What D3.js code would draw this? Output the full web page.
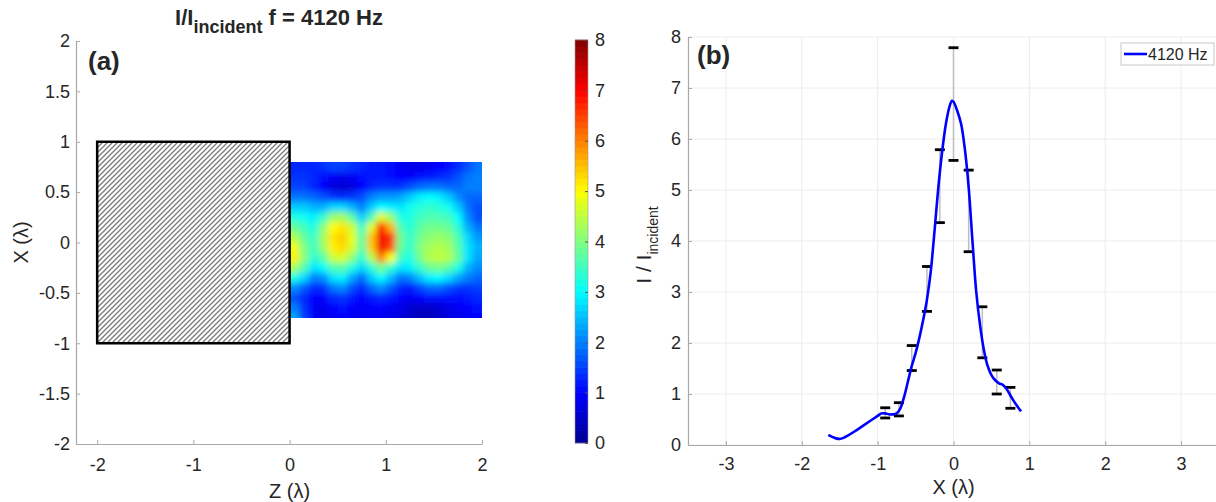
<!DOCTYPE html>
<html>
<head>
<meta charset="utf-8">
<script src="https://cdn.jsdelivr.net/npm/d3@7"></script>
<style>
  body { margin: 0; background: #fff; }
  text { font-family: "Liberation Sans", Arial, Helvetica, sans-serif; fill: #262626; }
</style>
</head>
<body>
<svg id="chart" width="1216" height="502"></svg>
<script>
// ---- panel (a): intensity map ----
var heatZ = [0.05, 0.15, 0.25, 0.35, 0.45, 0.55, 0.65, 0.75, 0.85, 0.95,
             1.05, 1.15, 1.25, 1.35, 1.45, 1.55, 1.65, 1.75, 1.85, 1.95];
var heatX = [0.75, 0.65, 0.55, 0.45, 0.35, 0.25, 0.15, 0.05,
             -0.05, -0.15, -0.25, -0.35, -0.45, -0.55, -0.65, -0.75];
var heatVals = [
  [1.3,1.3,1.3,1.4,1.5,1.5,1.4,1.3,1.2,1.2,1.1,0.9,0.8,0.8,0.9,1.0,1.1,1.3,1.6,1.9],
  [1.4,1.4,1.3,1.1,0.9,0.8,0.9,1.1,1.2,1.2,1.1,1.0,1.0,1.1,1.2,1.3,1.4,1.6,1.9,2.0],
  [1.5,1.5,1.3,1.0,0.7,0.6,0.7,1.0,1.3,1.4,1.4,1.4,1.6,1.8,1.9,1.9,1.8,1.8,2.0,2.0],
  [1.9,1.9,1.8,1.6,1.4,1.3,1.4,1.6,2.0,2.2,2.2,2.3,2.6,2.9,3.0,2.9,2.6,2.1,1.8,1.8],
  [2.6,2.6,2.4,2.4,2.7,2.7,2.4,2.0,2.6,3.0,2.9,2.8,3.1,3.3,3.4,3.3,3.1,2.6,1.9,1.6],
  [3.2,3.1,2.9,3.4,4.2,4.3,3.7,2.6,3.6,4.8,4.2,3.2,3.2,3.5,3.6,3.6,3.5,3.0,2.1,1.6],
  [3.8,3.5,3.2,4.1,5.0,5.2,4.6,3.4,4.8,6.8,5.6,3.6,3.3,3.7,3.9,3.9,3.8,3.3,2.4,1.9],
  [4.4,3.8,3.4,4.3,5.2,5.4,4.8,3.7,5.5,7.1,6.6,3.9,3.4,3.9,4.1,4.2,4.1,3.6,2.7,2.2],
  [4.9,4.0,3.5,4.2,5.1,5.3,4.7,3.7,5.4,7.1,6.4,3.8,3.4,4.0,4.3,4.4,4.3,3.7,2.8,2.4],
  [5.1,4.1,3.3,3.7,4.6,4.7,4.1,3.3,4.4,6.0,5.0,3.5,3.2,3.9,4.4,4.5,4.4,3.8,2.8,2.3],
  [4.3,3.6,2.8,3.0,3.6,3.7,3.2,2.7,3.3,3.9,3.4,2.8,2.9,3.4,3.8,3.9,3.7,3.2,2.4,2.1],
  [3.2,2.7,2.0,2.1,2.8,2.9,2.3,1.8,2.6,3.0,2.5,1.9,2.0,2.5,2.9,3.0,2.7,2.3,2.0,1.8],
  [2.1,1.7,1.3,1.4,1.9,2.1,1.6,1.3,1.8,2.1,1.7,1.3,1.2,1.5,1.8,1.8,1.6,1.4,1.4,1.5],
  [1.6,1.3,1.0,1.0,1.3,1.4,1.2,1.0,1.2,1.3,1.2,1.0,0.9,1.0,1.1,1.1,1.1,1.1,1.2,1.3],
  [2.0,1.4,0.9,0.8,1.0,1.1,1.0,0.9,1.0,1.0,0.9,0.8,0.6,0.5,0.5,0.6,0.8,0.9,1.0,1.1],
  [2.3,1.5,0.9,0.8,0.9,1.0,0.9,0.8,0.9,0.9,0.8,0.7,0.5,0.4,0.4,0.5,0.7,0.8,0.9,1.0]
];
var heatExtentZ = [0, 2];
var heatExtentX = [-0.75, 0.8];
var scatterer = {z0: -2, z1: 0, x0: -1, x1: 1};
var aTicksX = [-2, -1, 0, 1, 2];
var aTicksY = [-2, -1.5, -1, -0.5, 0, 0.5, 1, 1.5, 2];
var colorbarTicks = [0, 1, 2, 3, 4, 5, 6, 7, 8];

// ---- panel (b): profile ----
var curveX = [-1.65,-1.6,-1.55,-1.5,-1.45,-1.4,-1.3,-1.2,-1.1,-1.0,-0.95,-0.9,-0.85,-0.8,-0.75,
              -0.7,-0.65,-0.6,-0.55,-0.5,-0.45,-0.4,-0.35,-0.3,-0.25,-0.2,-0.15,-0.1,-0.05,-0.02,
              0,0.05,0.1,0.15,0.2,0.25,0.3,0.35,0.4,0.45,0.5,0.55,0.6,0.65,0.7,0.75,0.8,0.85,0.89];
var curveY = [0.2,0.16,0.13,0.12,0.14,0.18,0.27,0.37,0.47,0.57,0.62,0.62,0.6,0.6,0.62,
              0.72,0.95,1.25,1.55,1.8,2.1,2.45,2.85,3.4,4.2,5.05,5.75,6.3,6.65,6.75,
              6.73,6.55,6.3,5.8,5.05,4.0,3.0,2.35,1.87,1.55,1.37,1.27,1.21,1.18,1.1,0.97,0.85,0.74,0.66];
var errX  = [-0.9, -0.72, -0.55, -0.35, -0.18, 0, 0.2, 0.38, 0.57, 0.75];
var errHi = [0.73, 0.83, 1.95, 3.5, 5.79, 7.79, 5.39, 2.71, 1.47, 1.13];
var errLo = [0.53, 0.57, 1.46, 2.62, 4.36, 5.58, 3.79, 1.71, 1.0, 0.72];
var bTicksX = [-3, -2, -1, 0, 1, 2, 3];
var bTicksY = [0, 1, 2, 3, 4, 5, 6, 7, 8];
var legendLabel = "4120 Hz";

var svg = d3.select("#chart");
var fmt = function(d) { return String(d); };
var axisGray = "#a8a8a8";

// jet colormap
var jet = d3.scaleLinear()
    .domain([0, 1, 3, 5, 7, 8])
    .range(["#00008f", "#0000ff", "#00ffff", "#ffff00", "#ff0000", "#800000"])
    .clamp(true);

var defs = svg.append("defs");
var pat = defs.append("pattern")
    .attr("id", "hatch").attr("patternUnits", "userSpaceOnUse")
    .attr("width", 5).attr("height", 5);
pat.append("rect").attr("width", 5).attr("height", 5).attr("fill", "#fff");
pat.append("path").attr("d", "M-1,1 l2,-2 M0,5 l5,-5 M4,6 l2,-2")
    .attr("stroke", "#7a7a7a").attr("stroke-width", 1.3);

var blur = defs.append("filter").attr("id", "smooth")
    .attr("x", "-10%").attr("y", "-10%").attr("width", "120%").attr("height", "120%");
blur.append("feGaussianBlur").attr("stdDeviation", 3.2);

// ===== panel (a) =====
var xa = d3.scaleLinear().domain([-2.22, 2]).range([76, 482]);
var ya = d3.scaleLinear().domain([-2, 2]).range([444, 41]);

defs.append("clipPath").attr("id", "heatClip").append("rect")
    .attr("x", xa(heatExtentZ[0])).attr("y", ya(heatExtentX[1]))
    .attr("width", xa(heatExtentZ[1]) - xa(heatExtentZ[0]))
    .attr("height", ya(heatExtentX[0]) - ya(heatExtentX[1]));

var cellW = xa(0.1) - xa(0), cellH = ya(0) - ya(0.1);
var cells = [];
heatVals.forEach(function(row, r) {
  row.forEach(function(v, c) { cells.push({r: r, c: c, v: v}); });
});
var pad = 10;
svg.append("g").attr("clip-path", "url(#heatClip)")
  .append("g").attr("filter", "url(#smooth)")
  .selectAll("rect").data(cells).enter().append("rect")
    .attr("x", function(d) { return xa(heatZ[d.c]) - cellW / 2 - (d.c === 0 ? pad : 0); })
    .attr("y", function(d) { return ya(heatX[d.r]) - cellH / 2 - (d.r === 0 ? pad : 0); })
    .attr("width", function(d) { return cellW + 0.6 + ((d.c === 0 || d.c === heatZ.length - 1) ? pad : 0); })
    .attr("height", function(d) { return cellH + 0.6 + ((d.r === 0 || d.r === heatX.length - 1) ? pad : 0); })
    .attr("fill", function(d) { return jet(d.v); });

// hatched scatterer
svg.append("rect")
    .attr("x", xa(scatterer.z0)).attr("y", ya(scatterer.x1))
    .attr("width", xa(scatterer.z1) - xa(scatterer.z0))
    .attr("height", ya(scatterer.x0) - ya(scatterer.x1))
    .attr("fill", "url(#hatch)").attr("stroke", "#000").attr("stroke-width", 2.5);

// axes (a)
var axA_x = svg.append("g").attr("transform", "translate(0," + ya(-2) + ")")
    .call(d3.axisBottom(xa).tickValues(aTicksX).tickFormat(fmt).tickSize(-4).tickSizeOuter(0).tickPadding(14));
var axA_y = svg.append("g").attr("transform", "translate(" + xa(-2.22) + ",0)")
    .call(d3.axisLeft(ya).tickValues(aTicksY).tickFormat(fmt).tickSize(-4).tickSizeOuter(0).tickPadding(6));
[axA_x, axA_y].forEach(function(g) {
  g.select(".domain").attr("stroke", axisGray).attr("stroke-width", 1.2);
  g.selectAll(".tick line").attr("stroke", axisGray);
  g.selectAll(".tick text").attr("font-size", 18).attr("fill", "#262626")
    .style("font-family", "'Liberation Sans', Arial, sans-serif");
});

svg.append("text").attr("x", xa(0)).attr("y", 498).attr("text-anchor", "middle")
    .attr("font-size", 20).text("Z (λ)");
svg.append("text").attr("transform", "translate(28," + ya(0) + ") rotate(-90)")
    .attr("text-anchor", "middle").attr("font-size", 20).text("X (λ)");

var title = svg.append("text").attr("x", 279).attr("y", 25).attr("text-anchor", "middle")
    .attr("font-size", 22).attr("font-weight", "bold");
title.append("tspan").text("I/I");
title.append("tspan").attr("dy", 8).attr("font-size", 18).text("incident");
title.append("tspan").attr("dy", -8).text(" f = 4120 Hz");

svg.append("text").attr("x", 88).attr("y", 70).attr("font-size", 26)
    .attr("font-weight", "bold").attr("fill", "#000").text("(a)");

// colorbar
var cb = d3.scaleLinear().domain([0, 8]).range([443, 40]);
var cbSteps = d3.range(64).map(function(i) { return 8 * i / 64; });
svg.append("g").selectAll("rect").data(cbSteps).enter().append("rect")
    .attr("x", 575).attr("width", 13)
    .attr("y", function(d) { return cb(d + 8 / 64) - 0.3; })
    .attr("height", cb(0) - cb(8 / 64) + 0.6)
    .attr("fill", function(d) { return jet(d + 4 / 64); });
svg.append("rect").attr("x", 575).attr("y", cb(8)).attr("width", 13)
    .attr("height", cb(0) - cb(8)).attr("fill", "none").attr("stroke", "#9a9a9a").attr("stroke-width", 0.6);
var cbAxis = svg.append("g").attr("transform", "translate(588,0)")
    .call(d3.axisRight(cb).tickValues(colorbarTicks).tickFormat(fmt).tickSize(-3).tickSizeOuter(0).tickPadding(7));
cbAxis.select(".domain").remove();
cbAxis.selectAll(".tick line").attr("stroke", "#555");
cbAxis.selectAll(".tick text").attr("font-size", 18).attr("fill", "#262626")
    .style("font-family", "'Liberation Sans', Arial, sans-serif");

// ===== panel (b) =====
var xb = d3.scaleLinear().domain([-3.5, 3.5]).range([688, 1219]);
var yb = d3.scaleLinear().domain([0, 8]).range([445, 37]);

var grid = svg.append("g");
grid.selectAll(".gx").data(bTicksX).enter().append("line")
    .attr("x1", function(d) { return xb(d); }).attr("x2", function(d) { return xb(d); })
    .attr("y1", yb(0)).attr("y2", yb(8)).attr("stroke", "#ececec").attr("stroke-width", 1);
grid.selectAll(".gy").data(bTicksY).enter().append("line")
    .attr("x1", xb(-3.5)).attr("x2", xb(3.5))
    .attr("y1", function(d) { return yb(d); }).attr("y2", function(d) { return yb(d); })
    .attr("stroke", "#ececec").attr("stroke-width", 1);

var axB_x = svg.append("g").attr("transform", "translate(0," + yb(0) + ")")
    .call(d3.axisBottom(xb).tickValues(bTicksX).tickFormat(fmt).tickSize(-4).tickSizeOuter(0).tickPadding(12));
var axB_y = svg.append("g").attr("transform", "translate(" + xb(-3.5) + ",0)")
    .call(d3.axisLeft(yb).tickValues(bTicksY).tickFormat(fmt).tickSize(-4).tickSizeOuter(0).tickPadding(7));
[axB_x, axB_y].forEach(function(g) {
  g.select(".domain").attr("stroke", axisGray).attr("stroke-width", 1.2);
  g.selectAll(".tick line").attr("stroke", axisGray);
  g.selectAll(".tick text").attr("font-size", 18).attr("fill", "#262626")
    .style("font-family", "'Liberation Sans', Arial, sans-serif");
});

svg.append("text").attr("x", xb(0)).attr("y", 494).attr("text-anchor", "middle")
    .attr("font-size", 20).text("X (λ)");
var ylab = svg.append("text").attr("transform", "translate(651,245) rotate(-90)")
    .attr("text-anchor", "middle").attr("font-size", 21);
ylab.append("tspan").text("I / I");
ylab.append("tspan").attr("dy", 7).attr("font-size", 14).text("incident");

svg.append("text").attr("x", 697).attr("y", 64).attr("font-size", 26)
    .attr("font-weight", "bold").attr("fill", "#000").text("(b)");

// error bars
var errs = errX.map(function(x, i) { return {x: x, lo: errLo[i], hi: errHi[i]}; });
var eb = svg.append("g");
eb.selectAll(".stem").data(errs).enter().append("line")
    .attr("x1", function(d) { return xb(d.x); }).attr("x2", function(d) { return xb(d.x); })
    .attr("y1", function(d) { return yb(d.lo); }).attr("y2", function(d) { return yb(d.hi); })
    .attr("stroke", "#bdbdbd").attr("stroke-width", 1.5);
["lo", "hi"].forEach(function(k) {
  eb.selectAll(".cap-" + k).data(errs).enter().append("line")
    .attr("x1", function(d) { return xb(d.x) - 5; }).attr("x2", function(d) { return xb(d.x) + 5; })
    .attr("y1", function(d) { return yb(d[k]); }).attr("y2", function(d) { return yb(d[k]); })
    .attr("stroke", "#000").attr("stroke-width", 2.8);
});

// profile curve
var pts = curveX.map(function(x, i) { return [x, curveY[i]]; });
svg.append("path").datum(pts)
    .attr("d", d3.line().x(function(d) { return xb(d[0]); }).y(function(d) { return yb(d[1]); })
      .curve(d3.curveCatmullRom))
    .attr("fill", "none").attr("stroke", "#0000ff").attr("stroke-width", 2.6);

// legend
var lg = svg.append("g").attr("transform", "translate(1121,43)");
lg.append("rect").attr("width", 93).attr("height", 22).attr("fill", "#fff")
    .attr("stroke", "#c8c8c8").attr("stroke-width", 1);
lg.append("line").attr("x1", 3).attr("x2", 26).attr("y1", 11).attr("y2", 11)
    .attr("stroke", "#0000ff").attr("stroke-width", 2.6);
lg.append("text").attr("x", 27).attr("y", 17).attr("font-size", 16).text(legendLabel);
</script>
</body>
</html>
